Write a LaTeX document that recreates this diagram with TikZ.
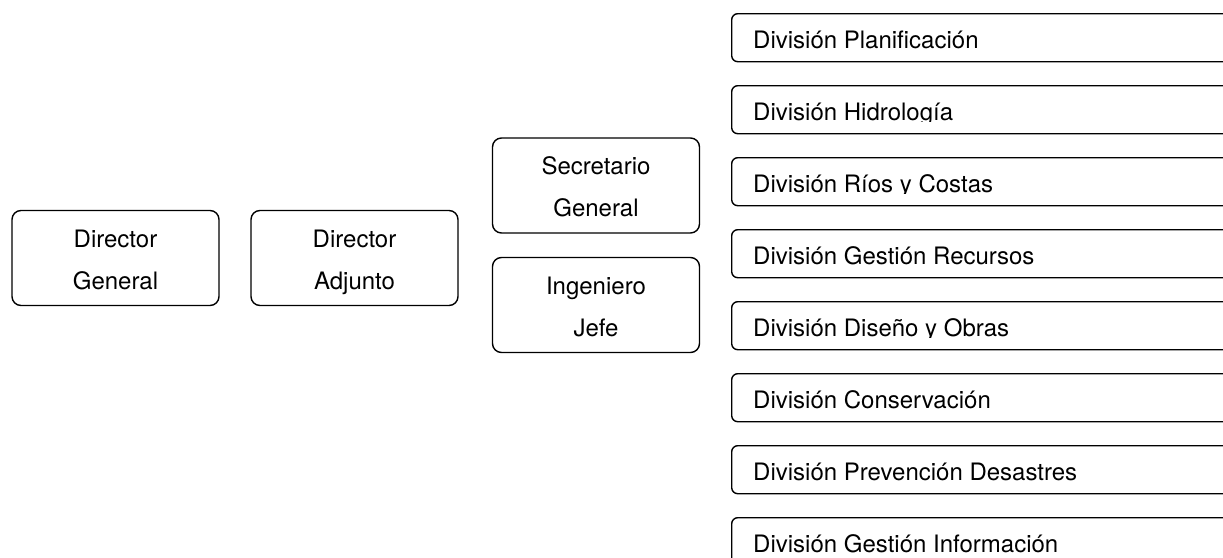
\documentclass[tikz,border=0pt]{standalone}
\usepackage{fontspec}
\setmainfont{TeX Gyre Heros}
\begin{document}
\begin{tikzpicture}[x=1pt,y=-1pt,
  unit/.style={draw=black, line width=1.4pt, rounded corners=9pt,
    minimum width=207pt, minimum height=95pt, align=center,
    text height=62pt, text depth=0pt,
    font=\fontsize{24}{42}\selectfont, inner sep=0pt},
  division/.style={draw=black, line width=1.4pt, rounded corners=6pt,
    minimum width=540pt, minimum height=48pt, inner sep=0pt, anchor=north west},
  divlabel/.style={anchor=base west, inner sep=0pt,
    font=\fontsize{24}{29}\selectfont}]
\clip (0,0) rectangle (1223,557);

% management column
\node[unit] (dg) at (115.5,258) {Director\\General};
\node[unit] (da) at (354.5,258) {Director\\Adjunto};
\node[unit] (sg) at (596,185.5) {Secretario\\General};
\node[unit] (ij) at (596,305) {Ingeniero\\Jefe};

% divisions, label text cut at the baseline
\foreach \t [count=\k from 0] in {División Planificación, División Hidrología,
  División Ríos y Costas, División Gestión Recursos, División Diseño y Obras,
  División Conservación, División Prevención Desastres, División Gestión Información}{
  \pgfmathsetmacro\ytop{13+72*\k}
  \node[division] (div\k) at (731,\ytop) {};
  \begin{scope}
    \clip (731,\ytop) rectangle (1223,\ytop+36);
    \node[divlabel] (lbl\k) at (753,\ytop+35) {\t};
  \end{scope}
}
\end{tikzpicture}
\end{document}
